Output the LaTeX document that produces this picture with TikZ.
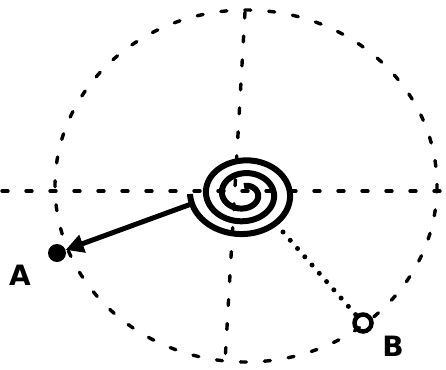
\documentclass[tikz,border=0pt]{standalone}
\usepackage{fontspec}
\setmainfont{DejaVu Sans}
\usetikzlibrary{arrows.meta}
\tikzset{
  guide/.style={line width=3.4pt, dash pattern=on 6pt off 18pt, line cap=round},
  dotline/.style={line width=5pt, dash pattern=on 0pt off 11pt, line cap=round},
  spiralline/.style={line width=6pt},
  vec/.style={line width=5pt, -{Triangle[length=18pt,width=18pt]}},
  lbl/.style={font=\fontsize{28}{28}\selectfont\bfseries, inner sep=0pt},
}
\begin{document}
\begin{tikzpicture}[x=1pt,y=-1pt]
\useasboundingbox (0,0) rectangle (446,369);
% dashed circle and axes
\draw[guide] (246,186) ellipse [x radius=191, y radius=176];
\draw[guide] (2,191) -- (446,191);
\draw[guide] (245,12) -- (225,362);
% spiral
\draw[spiralline] plot[domain=-810:180, samples=360, smooth]
  ({244 + (10+0.04444*(\x+810))*cos(\x)}, {194 + 0.8*(10+0.04444*(\x+810))*sin(\x)});
\coordinate (s) at (194,203);
% point A
\node[circle, fill, minimum size=18pt, inner sep=0pt] (a) at (57,253) {};
\node[lbl] (la) at (20,275) {A};
\draw[vec] (s) -- (a.20);
% point B
\node[circle, draw, line width=4.5pt, minimum size=17pt, inner sep=0pt] (b) at (363,323) {};
\node[lbl] (lb) at (393,346) {B};
\coordinate (bs) at (283,232);
\draw[dotline] (bs) -- (b);
\end{tikzpicture}
\end{document}
